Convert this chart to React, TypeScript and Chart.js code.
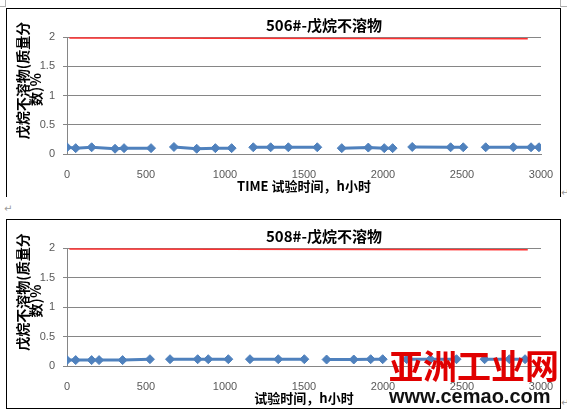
import { useEffect, useRef } from "react";
import { Chart, registerables } from "chart.js";

Chart.register(...registerables);

// ---- data ----
const xTickValues = [0, 500, 1000, 1500, 2000, 2500, 3000];
const yTickValues = [0, 0.5, 1, 1.5, 2];
const yTickLabels = ["0", "0.5", "1", "1.5", "2"];

// null entries mark breaks in the measured series
const hours506 = [0, 55, 156, 304, 361, 532, null, 677, 821, 939, 1042, null, 1179, 1289, 1401, 1584, null, 1739, 1907, 2008, 2061, null, 2185, 2428, 2508, null, 2650, 2825, 2937, 2987];
const insol506 = [0.115, 0.1, 0.115, 0.09, 0.1, 0.1, null, 0.12, 0.09, 0.1, 0.1, null, 0.115, 0.115, 0.115, 0.115, null, 0.1, 0.11, 0.1, 0.1, null, 0.12, 0.115, 0.115, null, 0.115, 0.115, 0.115, 0.115];

const hours508 = [0, 55, 156, 203, 352, 525, null, 652, 827, 894, 1021, null, 1158, 1337, 1502, null, 1643, 1815, 1922, 1998, null, 2150, 2300, 2465, null, 2643, 2800, 2899];
const insol508 = [0.1, 0.1, 0.1, 0.1, 0.1, 0.115, null, 0.115, 0.115, 0.115, 0.115, null, 0.115, 0.115, 0.115, null, 0.11, 0.11, 0.115, 0.115, null, 0.115, 0.115, 0.115, null, 0.115, 0.115, 0.115];

const limitHours = [15, 2916];
const limitValues = [1.985, 1.972];

const title506 = "506#-戊烷不溶物";
const title508 = "508#-戊烷不溶物";
const xTitle506 = "TIME 试验时间，h小时";
const xTitle508 = "试验时间，h小时";
const yTitleLines = ["戊烷不溶物(质量分", "数)%"];

const CJK = '"Noto Sans CJK SC", "Noto Sans", sans-serif';
const NUM = '"Liberation Sans", Arial, sans-serif';

// draws the y tick labels (from the y scale), then the chart title and the
// two-line rotated y-axis title on top, the way Word layers them
const wordTexts = {
  id: "wordTexts",
  afterDraw(chart: any, _args: any, opts: any) {
    const { ctx, chartArea } = chart;
    const yScale = chart.scales.y;
    ctx.save();
    ctx.fillStyle = "#595959";
    ctx.font = `11px ${NUM}`;
    ctx.textAlign = "right";
    ctx.textBaseline = "middle";
    yTickValues.forEach((v, i) => {
      ctx.fillText(yTickLabels[i], chartArea.left - 12, yScale.getPixelForValue(v));
    });

    ctx.fillStyle = "#000";
    ctx.textAlign = "center";
    ctx.font = `bold 15px ${CJK}`;
    const cx = (chartArea.left + chartArea.right) / 2 + 20;
    ctx.fillText(opts.title, cx, opts.titleY);
    ctx.font = `bold 14px ${CJK}`;
    const cy = (chartArea.top + chartArea.bottom) / 2;
    const xs = [16, 29];
    const dys = [-15, -6];
    (opts.yLines as string[]).forEach((line, i) => {
      ctx.save();
      ctx.translate(xs[i], cy + dys[i]);
      ctx.rotate(-Math.PI / 2);
      ctx.fillText(line, 0, 0);
      ctx.restore();
    });
    ctx.restore();
  },
};

function toPoints(xs: (number | null)[], ys: (number | null)[]) {
  return xs.map((x, i) => ({ x, y: ys[i] }));
}

function WordChart(props: {
  title: string;
  xTitle: string;
  hours: (number | null)[];
  values: (number | null)[];
  width: number;
  height: number;
}) {
  const ref = useRef<HTMLCanvasElement | null>(null);
  useEffect(() => {
    if (!ref.current) return;
    const chart = new Chart(ref.current, {
      type: "line",
      data: {
        datasets: [
          {
            data: toPoints(limitHours, limitValues) as any,
            borderColor: "#FF3030",
            borderWidth: 1.5,
            pointRadius: 0,
            fill: false,
          },
          {
            data: toPoints(props.hours, props.values) as any,
            borderColor: "#4F81BD",
            backgroundColor: "#4F81BD",
            borderWidth: 3,
            pointStyle: "rectRot",
            pointRadius: 4.5,
            pointBorderWidth: 1,
            pointBorderColor: "#4F81BD",
            pointBackgroundColor: "#4F81BD",
            spanGaps: false,
            fill: false,
          },
        ],
      },
      options: {
        animation: false,
        responsive: false,
        maintainAspectRatio: false,
        layout: { padding: { top: 28, right: 19, left: 0, bottom: 0 } },
        plugins: {
          legend: { display: false },
          tooltip: { enabled: false },
          title: { display: false },
          wordTexts: { title: props.title, titleY: 16, yLines: yTitleLines },
        } as any,
        scales: {
          x: {
            type: "linear",
            min: xTickValues[0],
            max: xTickValues[xTickValues.length - 1],
            afterBuildTicks: (s: any) => {
              s.ticks = xTickValues.map((v) => ({ value: v }));
            },
            afterFit: (s: any) => {
              s.height = 42;
            },
            ticks: {
              font: { family: NUM, size: 11 },
              color: "#595959",
              padding: 6,
              maxRotation: 0,
              autoSkip: false,
              callback: (v: any) => String(v),
            },
            grid: { display: false },
            border: { display: true, color: "#868686", width: 1 },
            title: {
              display: true,
              text: props.xTitle,
              font: { family: CJK, size: 13, weight: "bold" },
              color: "#000",
              padding: { top: 0, bottom: 2 },
            },
          },
          y: {
            type: "linear",
            min: yTickValues[0],
            max: yTickValues[yTickValues.length - 1],
            afterBuildTicks: (s: any) => {
              s.ticks = yTickValues.map((v) => ({ value: v }));
            },
            afterFit: (s: any) => {
              s.width = 60;
            },
            ticks: { display: false },
            grid: { color: "#868686", lineWidth: 1, tickLength: 4, drawTicks: true },
            border: { display: true, color: "#868686", width: 1 },
          },
        },
      },
      plugins: [wordTexts as any],
    });
    return () => chart.destroy();
  }, [props.title, props.xTitle, props.hours, props.values]);
  return <canvas ref={ref} width={props.width} height={props.height} style={{ display: "block", width: props.width, height: props.height }} />;
}

const markStyle: any = { position: "absolute", color: "#9a9a9a", font: '10px "DejaVu Sans", sans-serif', lineHeight: "10px" };

export default function App() {
  return (
    <div style={{ position: "fixed", left: 0, top: 0, width: 567, height: 412, background: "#fff", overflow: "hidden" }}>
      {/* Word corner marks */}
      <div style={{ position: "absolute", left: 5, top: 0, width: 1, height: 6, background: "#b0b0b0" }} />
      <div style={{ position: "absolute", left: 0, top: 6, width: 6, height: 1, background: "#b0b0b0" }} />
      <div style={{ position: "absolute", left: 560, top: 0, width: 1, height: 6, background: "#b0b0b0" }} />
      <div style={{ position: "absolute", left: 560, top: 6, width: 7, height: 1, background: "#b0b0b0" }} />

      {/* chart 1 frame */}
      <div style={{ position: "absolute", left: 6, top: 8, width: 555, height: 189, boxSizing: "border-box", borderTop: "1px solid #000", borderLeft: "1px solid #000", borderRight: "1px solid #000" }}>
        <WordChart title={title506} xTitle={xTitle506} hours={hours506} values={insol506} width={553} height={187} />
      </div>
      <div style={{ ...markStyle, left: 561, top: 188 }}>↵</div>
      <div style={{ ...markStyle, left: 4, top: 204 }}>↵</div>

      {/* chart 2 frame */}
      <div style={{ position: "absolute", left: 6, top: 219, width: 555, height: 190, boxSizing: "border-box", border: "1px solid #000" }}>
        <WordChart title={title508} xTitle={xTitle508} hours={hours508} values={insol508} width={553} height={188} />
      </div>
      <div style={{ ...markStyle, left: 561, top: 398 }}>↵</div>

      {/* watermark */}
      <div style={{ position: "absolute", left: 389, top: 347, color: "#E00000", font: `bold 34px ${CJK}`, lineHeight: "36px", whiteSpace: "nowrap" }}>亚洲工业网</div>
      <div style={{ position: "absolute", left: 389, top: 385, color: "#111", font: 'bold 20px "Liberation Sans", Arial, sans-serif', lineHeight: "22px", whiteSpace: "nowrap" }}>www.cemao.com</div>
    </div>
  );
}
